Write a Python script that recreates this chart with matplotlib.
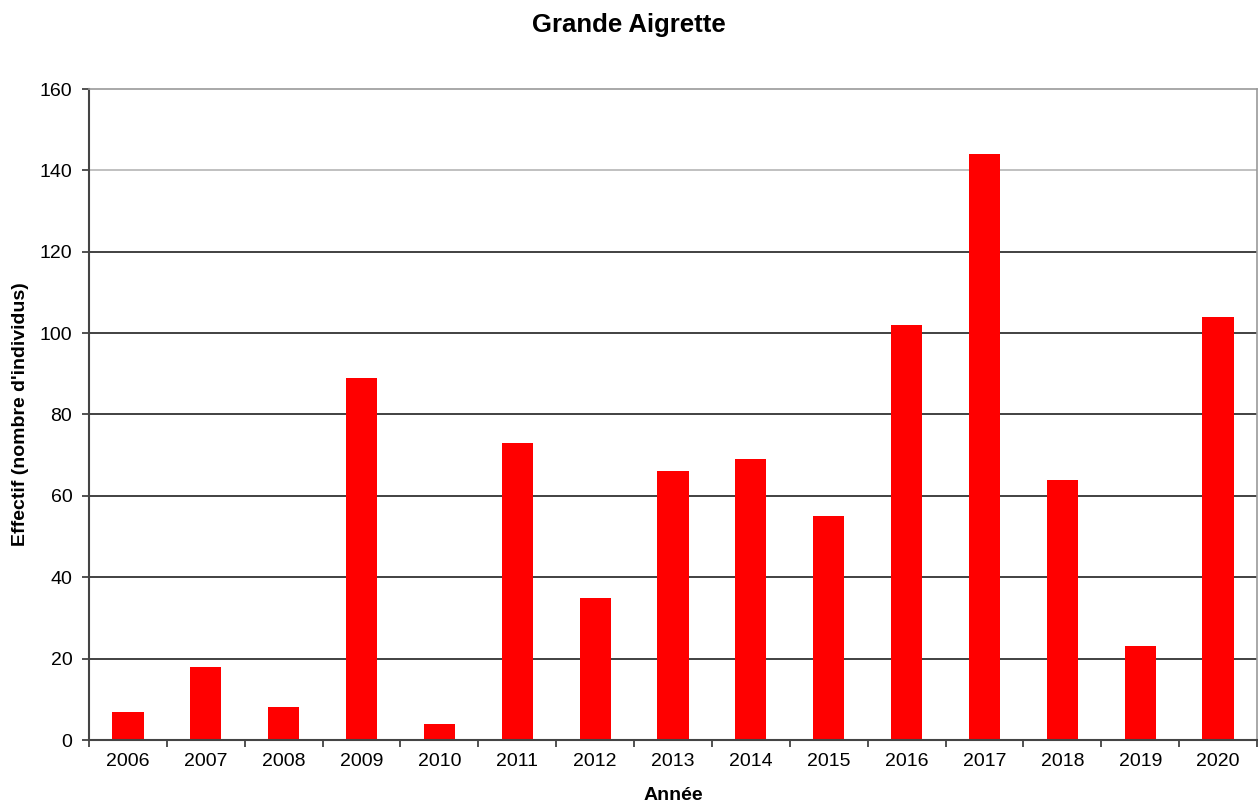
import matplotlib
matplotlib.use("Agg")
import matplotlib.pyplot as plt
from matplotlib.ticker import FixedLocator

years = ["2006", "2007", "2008", "2009", "2010", "2011", "2012", "2013",
         "2014", "2015", "2016", "2017", "2018", "2019", "2020"]
counts = [7, 18, 8, 89, 4, 73, 35, 66, 69, 55, 102, 144, 64, 23, 104]
yticks = [0, 20, 40, 60, 80, 100, 120, 140, 160]

plt.rcParams['font.family'] = ['Liberation Sans', 'DejaVu Sans']

fig = plt.figure(figsize=(12.58, 8.05), dpi=100)
ax = fig.add_axes([89/1258, 1 - 740/805, (1257-89)/1258, (740-89)/805])

x = list(range(len(years)))
ax.set_xlim(-0.5, len(years) - 0.5)
ax.set_ylim(0, 160)

for yv in yticks[1:-1]:
    col = '#bbbbbb' if yv == 140 else '#333333'
    ax.axhline(yv, color=col, lw=1.3, zorder=1)

ax.bar(x, counts, width=0.4, color='#ff0000', zorder=2)

ax.set_yticks(yticks)
ax.set_yticklabels([str(v) for v in yticks], fontsize=14)
ax.set_xticks(x)
ax.set_xticklabels(years, fontsize=14)
ax.tick_params(axis='x', length=0, pad=9)
ax.xaxis.set_minor_locator(FixedLocator([i + 0.5 for i in range(-1, len(years))]))
ax.tick_params(axis='x', which='minor', length=5, width=1.2, color='#333333')
ax.tick_params(axis='y', length=5, width=1.2, color='#333333', pad=7)

for s in ['left', 'bottom']:
    ax.spines[s].set_color('#444444')
    ax.spines[s].set_linewidth(1.5)
for s in ['top', 'right']:
    ax.spines[s].set_color('#999999')
    ax.spines[s].set_linewidth(1.2)

ax.set_xlabel("Année", fontsize=14, fontweight='bold')
ax.set_ylabel("Effectif (nombre d'individus)", fontsize=14, fontweight='bold')
ax.yaxis.set_label_coords(-(89 - 21) / 1168, 0.5)
ax.xaxis.set_label_coords(0.5, -(795 - 740) / 651)
ax.xaxis.label.set_va('center')
ax.yaxis.label.set_va('center')
fig.text(629/1258, 1 - 25/805, "Grande Aigrette", ha='center', va='center',
         fontsize=18.5, fontweight='bold')

fig.savefig("out.png", dpi=100)
